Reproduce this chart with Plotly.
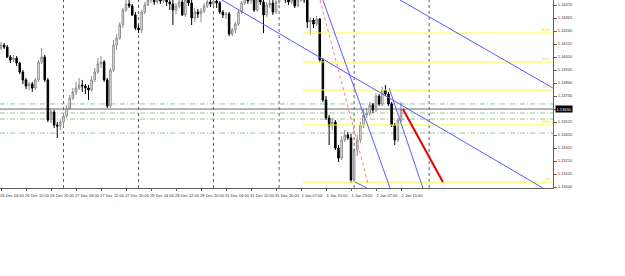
import plotly.graph_objects as go

# ---------------- data ----------------
opens = [
    1.14123, 1.14147, 1.14131, 1.14050, 1.14026, 1.14042, 1.14002, 1.13929, 1.13865, 1.13816,
    1.13832, 1.13800, 1.13865, 1.14010, 1.14050, 1.13865, 1.13541, 1.13606, 1.13501, 1.13493,
    1.13525, 1.13574, 1.13638, 1.13719, 1.13768, 1.13800, 1.13824, 1.13816, 1.13800, 1.13784,
    1.13865, 1.13929, 1.13994, 1.14010, 1.13865, 1.13655, 1.13945, 1.14147, 1.14204, 1.14309,
    1.14430, 1.14479, 1.14463, 1.14390, 1.14285, 1.14269, 1.14414, 1.14471, 1.14511, 1.14527,
    1.14495, 1.14519, 1.14503, 1.14535, 1.14495, 1.14479, 1.14430, 1.14463, 1.14495, 1.14390,
    1.14511, 1.14487, 1.14366, 1.14414, 1.14398, 1.14422, 1.14463, 1.14495, 1.14479, 1.14503,
    1.14487, 1.14414, 1.14390, 1.14398, 1.14236, 1.14269, 1.14317, 1.14414, 1.14487, 1.14527,
    1.14503, 1.14527, 1.14430, 1.14511, 1.14495, 1.14390, 1.14471, 1.14487, 1.14414, 1.14495,
    1.14535, 1.14551, 1.14511, 1.14495, 1.14519, 1.14463, 1.14511, 1.14535, 1.14511, 1.14333,
    1.14349, 1.14317, 1.14357, 1.14026, 1.13703, 1.13558, 1.13493, 1.13525, 1.13315, 1.13234,
    1.13380, 1.13420, 1.13396, 1.13057, 1.13299, 1.13380, 1.13501, 1.13582, 1.13598, 1.13663,
    1.13622, 1.13735, 1.13671, 1.13784, 1.13751, 1.13671, 1.13501, 1.13380, 1.13541,
]
highs = [
    1.14172, 1.14164, 1.14147, 1.14067, 1.14067, 1.14059, 1.14010, 1.13945, 1.13881, 1.13849,
    1.13849, 1.13881, 1.14026, 1.14123, 1.14067, 1.13881, 1.13638, 1.13622, 1.13525, 1.13541,
    1.13590, 1.13663, 1.13743, 1.13800, 1.13849, 1.13881, 1.13865, 1.13832, 1.13824, 1.13897,
    1.13962, 1.14042, 1.14059, 1.14026, 1.13881, 1.13962, 1.14188, 1.14236, 1.14333, 1.14446,
    1.14511, 1.14527, 1.14479, 1.14414, 1.14309, 1.14430, 1.14495, 1.14543, 1.14559, 1.14551,
    1.14543, 1.14559, 1.14568, 1.14559, 1.14527, 1.14511, 1.14487, 1.14527, 1.14511, 1.14535,
    1.14535, 1.14511, 1.14446, 1.14438, 1.14446, 1.14487, 1.14527, 1.14519, 1.14535, 1.14527,
    1.14503, 1.14430, 1.14414, 1.14414, 1.14285, 1.14333, 1.14430, 1.14503, 1.14559, 1.14551,
    1.14559, 1.14551, 1.14543, 1.14543, 1.14511, 1.14495, 1.14511, 1.14511, 1.14535, 1.14576,
    1.14592, 1.14576, 1.14543, 1.14543, 1.14535, 1.14543, 1.14576, 1.14559, 1.14535, 1.14374,
    1.14366, 1.14382, 1.14366, 1.14042, 1.13735, 1.13582, 1.13558, 1.13541, 1.13339, 1.13412,
    1.13461, 1.13445, 1.13428, 1.13315, 1.13420, 1.13525, 1.13622, 1.13638, 1.13687, 1.13679,
    1.13760, 1.13751, 1.13808, 1.13824, 1.13768, 1.13687, 1.13517, 1.13558, 1.13687,
]
lows = [
    1.14107, 1.14115, 1.14042, 1.14002, 1.14010, 1.13978, 1.13913, 1.13832, 1.13792, 1.13784,
    1.13768, 1.13784, 1.13849, 1.13994, 1.13849, 1.13525, 1.13517, 1.13477, 1.13396, 1.13461,
    1.13485, 1.13558, 1.13622, 1.13703, 1.13743, 1.13784, 1.13768, 1.13751, 1.13703, 1.13768,
    1.13849, 1.13913, 1.13962, 1.13849, 1.13638, 1.13638, 1.13929, 1.14107, 1.14188, 1.14285,
    1.14414, 1.14446, 1.14382, 1.14269, 1.14244, 1.14244, 1.14398, 1.14463, 1.14487, 1.14471,
    1.14479, 1.14479, 1.14487, 1.14463, 1.14430, 1.14309, 1.14398, 1.14446, 1.14382, 1.14374,
    1.14463, 1.14309, 1.14333, 1.14366, 1.14333, 1.14406, 1.14446, 1.14454, 1.14463, 1.14446,
    1.14398, 1.14366, 1.14357, 1.14220, 1.14220, 1.14244, 1.14301, 1.14398, 1.14471, 1.14479,
    1.14479, 1.14414, 1.14414, 1.14471, 1.14244, 1.14374, 1.14446, 1.14390, 1.14398, 1.14479,
    1.14511, 1.14487, 1.14471, 1.14479, 1.14446, 1.14454, 1.14495, 1.14487, 1.14285, 1.14228,
    1.14285, 1.14301, 1.14010, 1.13687, 1.13541, 1.13339, 1.13461, 1.13299, 1.13202, 1.13218,
    1.13364, 1.13380, 1.13032, 1.13040, 1.13251, 1.13356, 1.13477, 1.13558, 1.13574, 1.13598,
    1.13606, 1.13655, 1.13655, 1.13735, 1.13655, 1.13485, 1.13339, 1.13364, 1.13525,
]
closes = [
    1.14147, 1.14131, 1.14050, 1.14026, 1.14042, 1.14002, 1.13929, 1.13865, 1.13816, 1.13832,
    1.13800, 1.13865, 1.14010, 1.14050, 1.13865, 1.13541, 1.13606, 1.13501, 1.13493, 1.13525,
    1.13574, 1.13638, 1.13719, 1.13768, 1.13800, 1.13824, 1.13816, 1.13800, 1.13784, 1.13865,
    1.13929, 1.13994, 1.14010, 1.13865, 1.13655, 1.13945, 1.14147, 1.14204, 1.14309, 1.14430,
    1.14479, 1.14463, 1.14390, 1.14285, 1.14269, 1.14414, 1.14471, 1.14511, 1.14527, 1.14495,
    1.14519, 1.14503, 1.14535, 1.14495, 1.14479, 1.14430, 1.14463, 1.14495, 1.14390, 1.14511,
    1.14487, 1.14366, 1.14414, 1.14398, 1.14422, 1.14463, 1.14495, 1.14479, 1.14503, 1.14487,
    1.14414, 1.14390, 1.14398, 1.14236, 1.14269, 1.14317, 1.14414, 1.14487, 1.14527, 1.14503,
    1.14527, 1.14430, 1.14511, 1.14495, 1.14390, 1.14471, 1.14487, 1.14414, 1.14495, 1.14535,
    1.14551, 1.14511, 1.14495, 1.14519, 1.14463, 1.14511, 1.14535, 1.14511, 1.14333, 1.14349,
    1.14317, 1.14357, 1.14026, 1.13703, 1.13558, 1.13493, 1.13525, 1.13315, 1.13234, 1.13380,
    1.13420, 1.13396, 1.13057, 1.13299, 1.13380, 1.13501, 1.13582, 1.13598, 1.13663, 1.13622,
    1.13735, 1.13671, 1.13784, 1.13751, 1.13671, 1.13501, 1.13380, 1.13541, 1.13630,
]
bars = list(range(len(closes)))

time_tick_bars = [0, 8, 16, 24, 32, 40, 48, 56, 64, 72, 80, 88, 96, 104, 112, 120, 128]
time_tick_labels = ["26 Dec 04:00", "26 Dec 12:00", "26 Dec 20:00", "27 Dec 04:00",
                    "27 Dec 12:00", "27 Dec 20:00", "28 Dec 04:00", "28 Dec 12:00",
                    "28 Dec 20:00", "31 Dec 04:00", "31 Dec 12:00", "31 Dec 20:00",
                    "1 Jan 07:00", "1 Jan 15:00", "1 Jan 23:00", "2 Jan 07:00", "2 Jan 15:00"]
day_separator_bars = [20, 44, 68, 89, 113, 137]

price_ticks = [1.13000, 1.13105, 1.13210, 1.13315, 1.13420, 1.13525, 1.13630, 1.13735,
               1.13840, 1.13945, 1.14050, 1.14155, 1.14260, 1.14365, 1.14470]
price_tick_labels = ["%.5f" % p for p in price_ticks]

bid_price = 1.13630
green_levels = [1.13671, 1.13598, 1.13549, 1.13436]
fib_prices = [1.13040, 1.13501, 1.13784, 1.14010, 1.14244]
fib_labels = ["0.0", "23.6", "38.2", "50.0", "61.8"]
fib_start_bar = 96.6

blue_lines = [  # (bar0, price0, bar1, price1)
    (70.7, 1.14511, 173.4, 1.12992),
    (127.7, 1.14511, 176.6, 1.13800),
    (103.0, 1.14511, 124.5, 1.12992),
    (124.2, 1.13800, 135.0, 1.12992),
    (113.3, 1.13040, 117.1, 1.12992),
]
red_dotted_line = (102.1, 1.14511, 117.4, 1.13032)
red_thick_line = (128.6, 1.13630, 141.4, 1.13040)

X_RANGE = [-0.32, 176.64]
Y_RANGE = [1.12992, 1.14511]

FONT = "Liberation Sans"

# ---------------- figure ----------------
fig = go.Figure()

for b in day_separator_bars:
    fig.add_shape(type="line", x0=b, x1=b, y0=0, y1=1, xref="x", yref="paper",
                  line=dict(color="#606060", width=1, dash="dot"), layer="below")

for g in green_levels:
    fig.add_shape(type="line", x0=0, x1=1, y0=g, y1=g, xref="paper", yref="y",
                  line=dict(color="rgb(120,185,120)", width=0.8, dash="5px,2px,1px,2px"),
                  layer="below")

fig.add_shape(type="line", x0=0, x1=1, y0=bid_price, y1=bid_price, xref="paper", yref="y",
              line=dict(color="#6a6a6a", width=1), layer="below")

for fp, fl in zip(fib_prices, fib_labels):
    fig.add_trace(go.Scatter(x=[fib_start_bar, X_RANGE[1]], y=[fp, fp], mode="lines",
                             line=dict(color="#ffff30", width=1), hoverinfo="skip",
                             showlegend=False))
    fig.add_annotation(x=X_RANGE[1], y=fp, xref="x", yref="y", text=fl, showarrow=False,
                       xanchor="right", yanchor="bottom", yshift=-1,
                       font=dict(size=4, color="#e0e000", family=FONT))

fig.add_trace(go.Candlestick(
    x=bars, open=opens, high=highs, low=lows, close=closes,
    increasing=dict(line=dict(color="#8a8a8a", width=1), fillcolor="white"),
    decreasing=dict(line=dict(color="black", width=1), fillcolor="black"),
    whiskerwidth=0, hoverinfo="skip", showlegend=False))

for (x0, y0, x1, y1) in blue_lines:
    fig.add_trace(go.Scatter(x=[x0, x1], y=[y0, y1], mode="lines",
                             line=dict(color="rgb(90,90,255)", width=1),
                             hoverinfo="skip", showlegend=False))

fig.add_trace(go.Scatter(x=[red_dotted_line[0], red_dotted_line[2]],
                         y=[red_dotted_line[1], red_dotted_line[3]], mode="lines",
                         line=dict(color="rgb(255,120,120)", width=1, dash="dot"),
                         hoverinfo="skip", showlegend=False))
fig.add_trace(go.Scatter(x=[red_thick_line[0], red_thick_line[2]],
                         y=[red_thick_line[1], red_thick_line[3]], mode="lines",
                         line=dict(color="rgb(230,0,0)", width=2),
                         hoverinfo="skip", showlegend=False))

fig.add_annotation(x=1, y=bid_price, xref="paper", yref="y", text="%.5f" % bid_price,
                   showarrow=False, xanchor="left", yanchor="middle", xshift=2,
                   bgcolor="black", borderpad=0.5,
                   font=dict(size=4, color="white", family=FONT))

fig.update_layout(
    width=625, height=276,
    margin=dict(l=0, r=72, t=0, b=88),
    paper_bgcolor="white", plot_bgcolor="white",
    showlegend=False,
    xaxis=dict(range=X_RANGE, showgrid=False, zeroline=False, rangeslider=dict(visible=False),
               showline=True, linecolor="#606060", linewidth=1,
               tickmode="array", tickvals=time_tick_bars, ticktext=time_tick_labels,
               tickangle=0, ticks="outside", ticklen=2, tickcolor="#606060",
               ticklabelshift=11, ticklabelstandoff=1,
               tickfont=dict(size=4, color="#333333", family=FONT)),
    yaxis=dict(range=Y_RANGE, side="right", showgrid=False, zeroline=False,
               showline=True, linecolor="#606060", linewidth=1,
               tickmode="array", tickvals=price_ticks, ticktext=price_tick_labels,
               ticks="outside", ticklen=3, tickcolor="#606060",
               tickfont=dict(size=4, color="#333333", family=FONT)),
)

fig.write_html("out.html")
